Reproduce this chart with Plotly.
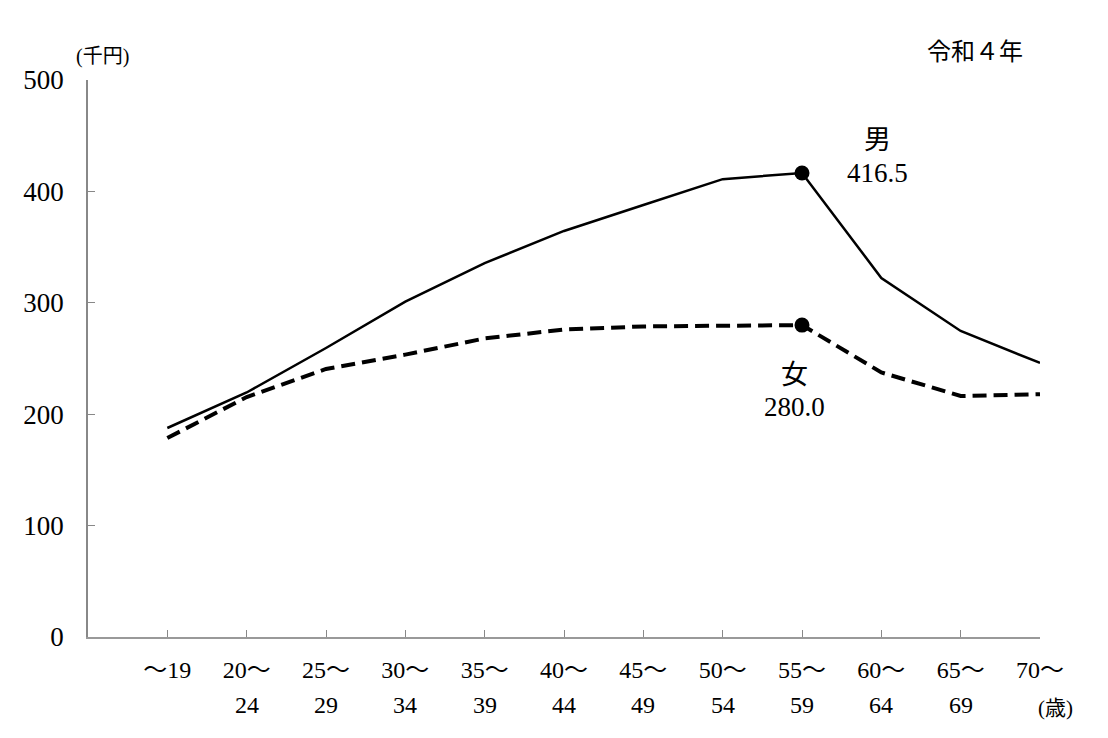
import plotly.graph_objects as go

# 年齢階級
edades_l1 = ["～19", "20～", "25～", "30～", "35～", "40～", "45～", "50～", "55～", "60～", "65～", "70～"]
edades_l2 = ["", "24", "29", "34", "39", "44", "49", "54", "59", "64", "69", ""]

# 賃金 (千円)
hombres = [187.6, 219.5, 259.4, 301.0, 335.7, 364.5, 387.8, 411.0, 416.5, 322.3, 274.7, 246.0]
mujeres = [178.6, 215.4, 240.6, 253.5, 268.0, 276.0, 278.8, 279.0, 280.0, 237.5, 216.3, 218.0]

y_ticks = [0, 100, 200, 300, 400, 500]
idx_pico = 8  # 55～59

fuente = "Liberation Serif, Noto Sans CJK JP, serif"
x = list(range(len(edades_l1)))

# la pagina tiene 8px de margen en el body, lo descuento
W, H = 1100, 730
L, T, R, B = 80, 72, 68, 101
alto = H - T - B
ancho = W - L - R


def py2paper(py):
    # py en pixeles de la captura
    return 1 - (py - 8 - T) / alto


def px2paper(px):
    return (px - 8 - L) / ancho


fig = go.Figure()

fig.add_trace(go.Scatter(
    x=x, y=hombres, mode="lines",
    line=dict(color="black", width=2.5),
    showlegend=False, hoverinfo="skip"
))
fig.add_trace(go.Scatter(
    x=x, y=mujeres, mode="lines",
    line=dict(color="black", width=4, dash="14px,7px"),
    showlegend=False, hoverinfo="skip"
))
# puntos en 55～59
fig.add_trace(go.Scatter(
    x=[x[idx_pico], x[idx_pico]], y=[hombres[idx_pico], mujeres[idx_pico]],
    mode="markers", marker=dict(color="black", size=15),
    showlegend=False, hoverinfo="skip"
))

fig.update_xaxes(
    range=[-1, len(x) - 1],
    tickmode="array", tickvals=x, ticktext=edades_l1,
    ticks="inside", ticklen=7, tickcolor="#888", tickwidth=1.2,
    showline=True, linecolor="#999", linewidth=2,
    showgrid=False, zeroline=False,
    tickfont=dict(family=fuente, size=24, color="black"),
    ticklabelstandoff=10
)
fig.update_yaxes(
    range=[0, 500],
    tickmode="array", tickvals=y_ticks,
    ticks="inside", ticklen=7, tickcolor="#888", tickwidth=1.2,
    showline=True, linecolor="#888", linewidth=1.5,
    showgrid=False, zeroline=False,
    tickfont=dict(family=fuente, size=27, color="black"),
    ticklabelstandoff=17
)

# segunda linea de las etiquetas
for i, t in enumerate(edades_l2):
    if t:
        fig.add_annotation(x=i, y=0, yref="y", yshift=-68, text=t, showarrow=False,
                           font=dict(family=fuente, size=24, color="black"))

anot = [
    ("男", x[idx_pico] + 0.95, 140),
    (f"{hombres[idx_pico]:.1f}", x[idx_pico] + 0.95, 173),
    ("女", x[idx_pico] - 0.1, 375),
    (f"{mujeres[idx_pico]:.1f}", x[idx_pico] - 0.1, 407),
]
for txt, ax, py in anot:
    fig.add_annotation(x=ax, xref="x", y=py2paper(py), yref="paper", text=txt,
                       xanchor="center", yanchor="middle",
                       showarrow=False, font=dict(family=fuente, size=27, color="black"))

textos = [
    ("令和４年", 975, 52, 24),
    ("(千円)", 102, 57, 20),
    ("(歳)", 1055, 708, 21),
]
for txt, px, py, sz in textos:
    fig.add_annotation(x=px2paper(px), xref="paper", y=py2paper(py), yref="paper",
                       text=txt, xanchor="center", yanchor="middle", showarrow=False,
                       font=dict(family=fuente, size=sz, color="black"))

fig.update_layout(
    width=W, height=H,
    margin=dict(l=L, r=R, t=T, b=B),
    plot_bgcolor="white", paper_bgcolor="white"
)

fig.write_html("out.html")
